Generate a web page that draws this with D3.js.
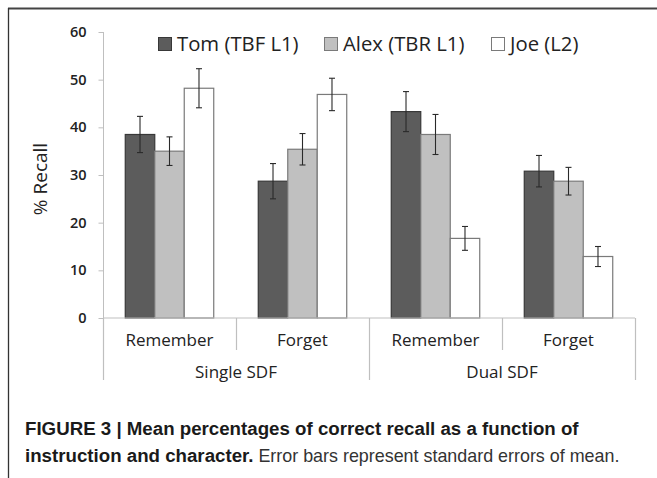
<!DOCTYPE html>
<html><head><meta charset="utf-8">
<script src="https://cdn.jsdelivr.net/npm/d3@7"></script>
<style>
html,body{margin:0;padding:0;background:#fff;}
svg{display:block;}
</style></head>
<body>
<svg id="chart" width="657" height="478"></svg>
<script>
const categories = ["Remember", "Forget", "Remember", "Forget"];
const groups = ["Single SDF", "Dual SDF"];
const seriesNames = ["Tom (TBF L1)", "Alex (TBR L1)", "Joe (L2)"];
const tomValues  = [38.5, 28.7, 43.3, 30.8];
const alexValues = [35.0, 35.4, 38.5, 28.7];
const joeValues  = [48.2, 46.9, 16.7, 12.9];
const tomErr  = [3.8, 3.7, 4.2, 3.3];
const alexErr = [3.0, 3.3, 4.2, 2.9];
const joeErr  = [4.1, 3.4, 2.5, 2.1];
const yTicks = [0, 10, 20, 30, 40, 50, 60];
const captionBold1 = "FIGURE 3 | Mean percentages of correct recall as a function of";
const captionBold2 = "instruction and character.";
const captionRest2 = " Error bars represent standard errors of mean.";

const fills = ["#5c5c5c", "#c0c0c0", "#ffffff"];
const strokes = ["#383838", "#7a7a7a", "#7a7a7a"];
const values = [tomValues, alexValues, joeValues];
const errs = [tomErr, alexErr, joeErr];

const svg = d3.select("#chart");
const font = "'Open Sans', sans-serif";

// frame
svg.append("line").attr("x1", 8).attr("x2", 657).attr("y1", 8.5).attr("y2", 8.5)
  .attr("stroke", "#444").attr("stroke-width", 2);
svg.append("line").attr("x1", 8.5).attr("x2", 8.5).attr("y1", 8).attr("y2", 478)
  .attr("stroke", "#333").attr("stroke-width", 1.3);

const x0 = d3.scaleBand().domain(d3.range(categories.length)).range([103, 635]).padding(0);
const x1 = d3.scaleBand().domain(d3.range(seriesNames.length)).range([0, x0.bandwidth()])
  .paddingInner(0).paddingOuter(0.755);
const y = d3.scaleLinear().domain([0, 60]).range([318, 32]);

// y axis
const yAxis = d3.axisLeft(y).tickValues(yTicks).tickSize(5).tickPadding(12);
const gy = svg.append("g").attr("transform", "translate(103.5,0)").call(yAxis);
gy.select(".domain").attr("stroke", "#bfbfbf").attr("d", "M0," + y(60) + "V" + y(0));
gy.selectAll(".tick line").attr("stroke", "#bfbfbf");
gy.selectAll(".tick text").attr("font-family", font).attr("font-size", 14.5)
  .attr("font-weight", 600).attr("fill", "#222");

// y title
svg.append("text").attr("transform", "translate(47,179) rotate(-90)")
  .attr("text-anchor", "middle").attr("font-family", font).attr("font-size", 19)
  .attr("font-weight", 500).attr("fill", "#222").text("% Recall");

// bars
const series = svg.append("g");
seriesNames.forEach((name, s) => {
  const g = series.append("g");
  g.selectAll("rect").data(values[s]).join("rect")
    .attr("x", (d, i) => x0(i) + x1(s))
    .attr("y", d => y(d))
    .attr("width", x1.bandwidth())
    .attr("height", d => y(0) - y(d))
    .attr("fill", fills[s]).attr("stroke", strokes[s]).attr("stroke-width", 1.2);
});

// error bars
seriesNames.forEach((name, s) => {
  const g = svg.append("g").attr("stroke", "#2a2a2a").attr("stroke-width", 1.1);
  values[s].forEach((v, i) => {
    const cx = x0(i) + x1(s) + x1.bandwidth() / 2;
    const e = errs[s][i];
    g.append("line").attr("x1", cx).attr("x2", cx).attr("y1", y(v + e)).attr("y2", y(v - e));
    g.append("line").attr("x1", cx - 3).attr("x2", cx + 3).attr("y1", y(v + e)).attr("y2", y(v + e));
    g.append("line").attr("x1", cx - 3).attr("x2", cx + 3).attr("y1", y(v - e)).attr("y2", y(v - e));
  });
});

// x axis baseline and separators
const ax = svg.append("g").attr("stroke", "#bfbfbf").attr("stroke-width", 1.2);
ax.append("line").attr("x1", 103).attr("x2", 635).attr("y1", y(0)).attr("y2", y(0));
d3.range(categories.length + 1).forEach(i => {
  const xx = i < categories.length ? x0(i) : x0.range()[1];
  const long = i % 2 === 0;
  ax.append("line").attr("x1", Math.round(xx) + 0.5).attr("x2", Math.round(xx) + 0.5)
    .attr("y1", y(0)).attr("y2", long ? 380 : 350);
});
svg.append("g").selectAll("text").data(categories).join("text")
  .attr("x", (d, i) => x0(i) + x0.bandwidth() / 2).attr("y", 346)
  .attr("text-anchor", "middle").attr("font-family", font).attr("font-size", 17)
  .attr("fill", "#222").text(d => d);
svg.append("g").selectAll("text").data(groups).join("text")
  .attr("x", (d, i) => (x0(i * 2) + x0(i * 2 + 1) + x0.bandwidth()) / 2).attr("y", 378)
  .attr("text-anchor", "middle").attr("font-family", font).attr("font-size", 17)
  .attr("fill", "#222").text(d => d);

// legend
const legX = [158, 324, 491];
const leg = svg.append("g");
seriesNames.forEach((name, s) => {
  leg.append("rect").attr("x", legX[s] + 0.5).attr("y", 37.5).attr("width", 13).attr("height", 13)
    .attr("fill", fills[s]).attr("stroke", strokes[s]).attr("stroke-width", 1);
  leg.append("text").attr("x", legX[s] + 19).attr("y", 51)
    .attr("font-family", font).attr("font-size", 20.3).attr("fill", "#222").text(name);
});

// caption
const cap = svg.append("g").attr("font-family", "'Liberation Sans', Arial, sans-serif").attr("fill", "#1a1a1a");
cap.append("text").attr("x", 25).attr("y", 435).attr("font-size", 18.7).attr("font-weight", "bold")
  .text(captionBold1);
const t2 = cap.append("text").attr("x", 25).attr("y", 462).attr("font-size", 18.7);
t2.append("tspan").attr("font-weight", "bold").text(captionBold2);
t2.append("tspan").attr("font-weight", "normal").attr("fill", "#333").attr("font-size", 17.9).text(captionRest2);
</script>
</body></html>
